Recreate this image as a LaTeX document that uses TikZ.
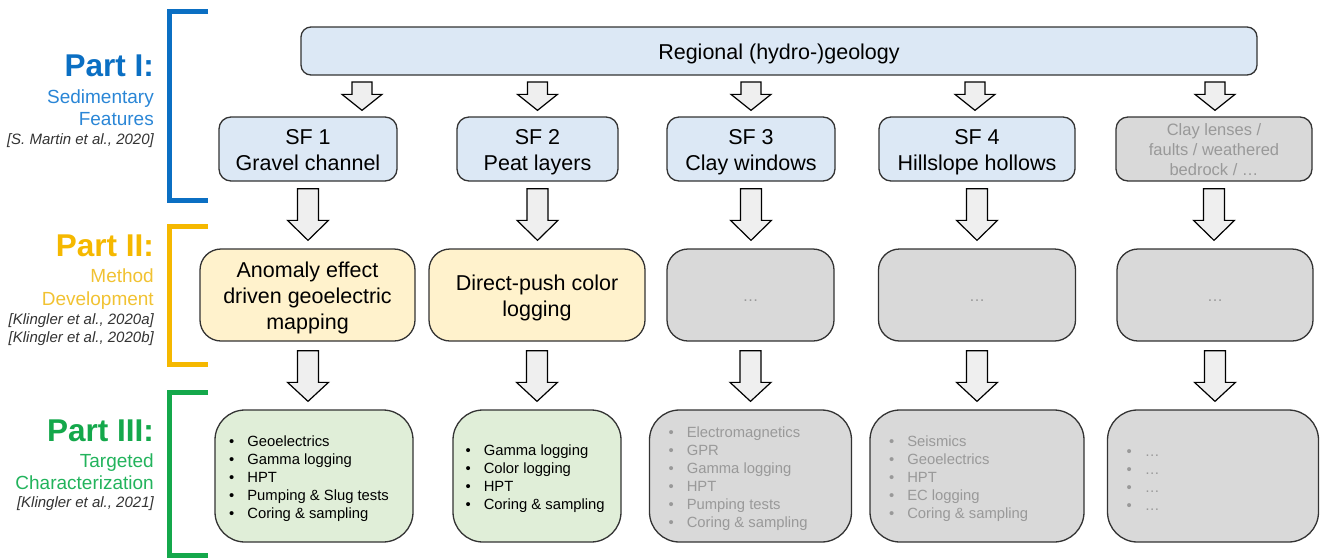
\documentclass[tikz,border=0pt]{standalone}
\usepackage{fontspec}
\setmainfont{Liberation Sans}
\usetikzlibrary{calc}
\definecolor{bd}{HTML}{333333}
\definecolor{lblue}{HTML}{DCE8F5}
\definecolor{lyel}{HTML}{FFF2CC}
\definecolor{lgreen}{HTML}{E0EED8}
\definecolor{lgrey}{HTML}{D9D9D9}
\definecolor{arrfill}{HTML}{EFEFEF}
\definecolor{gtext}{HTML}{999999}
\definecolor{pblue}{HTML}{0B6FC3}
\definecolor{pbluel}{HTML}{2A86D6}
\definecolor{pyel}{HTML}{F5B800}
\definecolor{pyell}{HTML}{F1C232}
\definecolor{pgreen}{HTML}{14A84B}
\definecolor{pgreenl}{HTML}{22B35C}
\newcommand\blockarr[5]{\draw[arr] let \p1=(#1), \p2=(#2) in
  (\x1-#3,\y1) -- (\x1+#3,\y1) -- (\x1+#3,\y2+#5) -- (\x1+#4,\y2+#5) --
  (\x1,\y2) -- (\x1-#4,\y2+#5) -- (\x1-#3,\y2+#5) -- cycle;}
\newcommand\bl{\textbullet\hspace{13pt}}
\newcommand\tx[2][-3pt]{\raisebox{#1}[\height][\depth]{\begin{tabular}{@{}c@{}}#2\end{tabular}}}
\newcommand\lst[2][-2.5pt]{\raisebox{#1}[\height][\depth]{\begin{tabular}{@{}l@{}}#2\end{tabular}}}
\newcommand\dts{\raisebox{-6pt}[\height][\depth]{\ldots}}
\begin{document}
\begin{tikzpicture}[x=1pt,y=-1pt,
  rbox/.style={draw=bd, line width=1.3pt, align=center, inner sep=0pt},
  mainfont/.style={font=\fontsize{21.5}{26}\selectfont},
  sfbox/.style={rbox, mainfont, fill=lblue, minimum height=64pt, rounded corners=12pt},
  mbox/.style={rbox, mainfont, minimum height=92pt, rounded corners=21pt},
  bbox/.style={rbox, minimum height=132pt, rounded corners=30pt},
  blist/.style={anchor=west, inner sep=0pt, font=\fontsize{14.8}{18}\selectfont},
  arr/.style={draw=black, line width=1.2pt, fill=arrfill, line join=miter},
  brk/.style={line width=5pt, line join=miter},
  ptitle/.style={anchor=base east, inner sep=0pt, font=\bfseries\fontsize{31.5}{36}\selectfont},
  psub/.style={anchor=base east, inner sep=0pt, font=\fontsize{19}{22}\selectfont},
  pcit/.style={anchor=base east, inner sep=0pt, font=\itshape\fontsize{15}{18}\selectfont, text=bd}
]
\useasboundingbox (0,0) rectangle (1320,558);

% brackets
\draw[brk, pblue] (208,11.5) -- (169,11.5) -- (169,200) -- (208,200);
\draw[brk, pyel] (208,226) -- (169,226) -- (169,364) -- (208,364);
\draw[brk, pgreen] (208,392.5) -- (169,392.5) -- (169,555) -- (208,555);

% left labels
\node[ptitle, text=pblue] (p1) at (154,76.5) {Part I:};
\node[psub, text=pbluel] (p1a) at (154,103) {Sedimentary};
\node[psub, text=pbluel] (p1b) at (154,125) {Features};
\node[pcit] (p1c) at (154,144.5) {[S. Martin et al., 2020]};

\node[ptitle, text=pyel] (p2) at (154,256.5) {Part II:};
\node[psub, text=pyell] (p2a) at (154,282) {Method};
\node[psub, text=pyell] (p2b) at (154,305) {Development};
\node[pcit] (p2c) at (154,324.5) {[Klingler et al., 2020a]};
\node[pcit] (p2d) at (154,342.5) {[Klingler et al., 2020b]};

\node[ptitle, text=pgreen] (p3) at (154,441.5) {Part III:};
\node[psub, text=pgreenl] (p3a) at (154,467) {Targeted};
\node[psub, text=pgreenl] (p3b) at (154,489) {Characterization};
\node[pcit] (p3c) at (154,507.5) {[Klingler et al., 2021]};

% top box
\node[rbox, mainfont, fill=lblue, minimum width=956pt, minimum height=48pt, rounded corners=10pt] (reg) at (779,51) {\tx[-3pt]{Regional (hydro-)geology}};

% SF row
\node[sfbox, minimum width=178pt] (sf1) at (308,149) {\tx{SF 1\\Gravel channel}};
\node[sfbox, minimum width=161pt] (sf2) at (537.5,149) {\tx{SF 2\\Peat layers}};
\node[sfbox, minimum width=168pt] (sf3) at (751,149) {\tx{SF 3\\Clay windows}};
\node[sfbox, minimum width=196pt] (sf4) at (977,149) {\tx{SF 4\\Hillslope hollows}};
\node[sfbox, minimum width=196pt, fill=lgrey, text=gtext, font=\fontsize{16.5}{20}\selectfont] (sf5) at (1214,149) {\tx[-2pt]{Clay lenses /\\faults / weathered\\bedrock / \ldots}};

% method row
\node[mbox, fill=lyel, minimum width=215pt] (m1) at (307.5,295) {\tx{Anomaly effect\\driven geoelectric\\mapping}};
\node[mbox, fill=lyel, minimum width=216pt] (m2) at (537,295) {\tx{Direct-push color\\logging}};
\node[mbox, fill=lgrey, text=gtext, minimum width=167pt, font=\fontsize{16}{18}\selectfont] (m3) at (750.5,295) {\dts};
\node[mbox, fill=lgrey, text=gtext, minimum width=197pt, font=\fontsize{16}{18}\selectfont] (m4) at (977,295) {\dts};
\node[mbox, fill=lgrey, text=gtext, minimum width=196pt, font=\fontsize{16}{18}\selectfont] (m5) at (1215,295) {\dts};

% bottom row
\node[bbox, fill=lgreen, minimum width=198pt] (b1) at (314,476) {};
\node[bbox, fill=lgreen, minimum width=168pt] (b2) at (537,476) {};
\node[bbox, fill=lgrey, minimum width=202pt] (b3) at (750.5,476) {};
\node[bbox, fill=lgrey, minimum width=214pt] (b4) at (977,476) {};
\node[bbox, fill=lgrey, minimum width=211pt] (b5) at (1213,476) {};

\node[blist] (l1) at (229,476) {\lst{\bl Geoelectrics\\\bl Gamma logging\\\bl HPT\\\bl Pumping \& Slug tests\\\bl Coring \& sampling}};
\node[blist] (l2) at (465.4,476) {\lst{\bl Gamma logging\\\bl Color logging\\\bl HPT\\\bl Coring \& sampling}};
\node[blist, text=gtext] (l3) at (668.4,476.5) {\lst{\bl Electromagnetics\\\bl GPR\\\bl Gamma logging\\\bl HPT\\\bl Pumping tests\\\bl Coring \& sampling}};
\node[blist, text=gtext] (l4) at (888.9,476) {\lst{\bl Seismics\\\bl Geoelectrics\\\bl HPT\\\bl EC logging\\\bl Coring \& sampling}};
\node[blist, text=gtext] (l5) at (1126.4,477) {\lst{\bl \ldots\\\bl \ldots\\\bl \ldots\\\bl \ldots}};

% small arrows from regional box
\coordinate (s1) at (362,82);
\coordinate (s2) at (537.5,82);
\coordinate (s3) at (751,82);
\coordinate (s4) at (975,82);
\coordinate (s5) at (1215,82);
\blockarr{s1}{$(s1 |- sf1.north)+(0,-6)$}{10}{20}{16}
\blockarr{s2}{$(s2 |- sf2.north)+(0,-6)$}{10}{20}{16}
\blockarr{s3}{$(s3 |- sf3.north)+(0,-6)$}{10}{20}{16}
\blockarr{s4}{$(s4 |- sf4.north)+(0,-6)$}{10}{20}{16}
\blockarr{s5}{$(s5 |- sf5.north)+(0,-6)$}{10}{20}{16}

% big arrows SF -> method
\blockarr{$(sf1.south)+(0,7)$}{$(m1.north -| sf1.south)+(0,-8)$}{10.5}{20.5}{20}
\blockarr{$(sf2.south)+(0,7)$}{$(m2.north -| sf2.south)+(0,-8)$}{10.5}{20.5}{20}
\blockarr{$(sf3.south)+(0,7)$}{$(m3.north -| sf3.south)+(0,-8)$}{10.5}{20.5}{20}
\blockarr{$(sf4.south)+(0,7)$}{$(m4.north -| sf4.south)+(0,-8)$}{10.5}{20.5}{20}
\blockarr{$(sf5.south)+(0,7)$}{$(m5.north -| sf5.south)+(0,-8)$}{10.5}{20.5}{20}

% big arrows method -> bottom
\blockarr{$(m1.south -| sf1.south)+(0,9)$}{$(b1.north -| sf1.south)+(0,-8)$}{10.5}{20.5}{19}
\blockarr{$(m2.south)+(0,9)$}{$(b2.north -| m2.south)+(0,-8)$}{10.5}{20.5}{19}
\blockarr{$(m3.south)+(0,9)$}{$(b3.north -| m3.south)+(0,-8)$}{10.5}{20.5}{19}
\blockarr{$(m4.south)+(0,9)$}{$(b4.north -| m4.south)+(0,-8)$}{10.5}{20.5}{19}
\blockarr{$(m5.south)+(0,9)$}{$(b5.north -| m5.south)+(0,-8)$}{10.5}{20.5}{19}
\end{tikzpicture}
\end{document}
